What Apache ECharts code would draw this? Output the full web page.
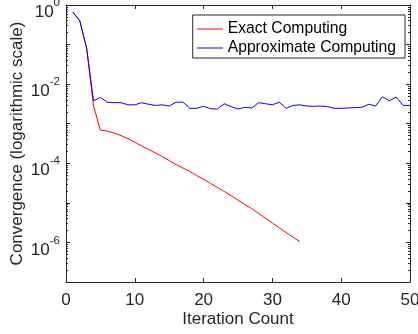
<!DOCTYPE html>
<html>
<head>
<meta charset="UTF-8">
<title>Convergence</title>
<script src="https://cdn.jsdelivr.net/npm/echarts@6/dist/echarts.min.js"></script>
<style>
  html, body { margin: 0; padding: 0; background: #fff; }
  #chart { width: 418px; height: 334px; }
</style>
</head>
<body>
<div id="chart"></div>
<script>
// iteration numbers
var iterations = [1, 2, 3, 4, 5, 6, 7, 8, 9, 10,
  11, 12, 13, 14, 15, 16, 17, 18, 19, 20,
  21, 22, 23, 24, 25, 26, 27, 28, 29, 30,
  31, 32, 33, 34, 35, 36, 37, 38, 39, 40,
  41, 42, 43, 44, 45, 46, 47, 48, 49, 50];

// exact computing stops at iteration 34
var exactValues = [0.66, 0.40, 0.081, 2.8e-3, 6.9e-4, 6.5e-4, 5.8e-4, 5.0e-4, 4.2e-4, 3.4e-4,
  2.75e-4, 2.24e-4, 1.82e-4, 1.48e-4, 1.17e-4, 9.3e-5, 7.6e-5, 6.2e-5, 4.9e-5, 3.9e-5,
  3.1e-5, 2.45e-5, 1.95e-5, 1.51e-5, 1.17e-5, 9.1e-6, 7.1e-6, 5.4e-6, 4.1e-6, 3.1e-6,
  2.34e-6, 1.78e-6, 1.35e-6, 1.05e-6];

var approxValues = [0.66, 0.40, 0.081, 3.8e-3, 4.6e-3, 3.5e-3, 3.4e-3, 3.4e-3, 3.0e-3, 3.0e-3,
  3.4e-3, 3.1e-3, 2.9e-3, 3.0e-3, 2.8e-3, 3.5e-3, 3.5e-3, 2.45e-3, 2.45e-3, 2.75e-3,
  2.4e-3, 2.35e-3, 3.2e-3, 2.7e-3, 2.35e-3, 2.6e-3, 2.5e-3, 3.4e-3, 3.2e-3, 3.0e-3,
  3.5e-3, 2.45e-3, 2.9e-3, 3.0e-3, 2.8e-3, 2.75e-3, 2.8e-3, 2.7e-3, 2.45e-3, 2.45e-3,
  2.5e-3, 2.55e-3, 2.6e-3, 3.1e-3, 2.8e-3, 4.8e-3, 3.8e-3, 4.7e-3, 2.9e-3, 2.9e-3];

var seriesNames = ['Exact Computing', 'Approximate Computing'];
var seriesColors = ['#ff0000', '#0000ff'];

var xTickInterval = 10;
var decadeExponents = [0, -1, -2, -3, -4, -5, -6, -7];
var labelExponents = [0, -2, -4, -6];
var minorMultipliers = [2, 3, 4, 5, 6, 7, 8, 9];

var axisColor = '#262626';
var fontFamily = 'Liberation Sans, Arial, Helvetica, sans-serif';
var axisFont = 17;

function pairs(xs, ys) {
  var out = [];
  for (var i = 0; i < ys.length; i++) out.push([xs[i], ys[i]]);
  return out;
}

var majorTicks = decadeExponents.map(function (e) { return Math.pow(10, e); });
var labelTicks = labelExponents.map(function (e) { return Math.pow(10, e); });
var minorTicks = [];
decadeExponents.forEach(function (e) {
  if (e === 0) return;
  minorMultipliers.forEach(function (m) { minorTicks.push(m * Math.pow(10, e)); });
});

function yAxisDef(position, ticks, len, withLabels) {
  var ax = {
    type: 'log',
    logBase: 10,
    min: 1e-7,
    max: 1,
    position: position,
    axisLine: { show: true, lineStyle: { color: axisColor, width: 1 } },
    axisTick: { show: true, inside: true, length: len, customValues: ticks,
      lineStyle: { color: axisColor, width: 1 } },
    axisLabel: { show: false },
    splitLine: { show: false }
  };
  if (withLabels) {
    ax.name = 'Convergence (logarithmic scale)';
    ax.nameLocation = 'middle';
    ax.nameGap = 40;
    ax.nameMoveOverlap = false;
    ax.nameTextStyle = { fontSize: axisFont, color: axisColor, fontFamily: fontFamily };
    ax.axisLabel = {
      show: true,
      margin: 6,
      padding: [8, 0, 0, 0],
      customValues: labelTicks,
      formatter: function (v) {
        var e = Math.round(Math.log10(v));
        return '{b|10}{s|' + e + '}';
      },
      rich: {
        b: { fontSize: axisFont, color: axisColor, fontFamily: fontFamily, verticalAlign: 'bottom', lineHeight: 24 },
        s: { fontSize: 11.5, color: axisColor, fontFamily: fontFamily, verticalAlign: 'top', lineHeight: 13 }
      }
    };
  }
  return ax;
}

function xAxisDef(position, withLabels) {
  return {
    type: 'value',
    min: 0,
    max: 50,
    interval: xTickInterval,
    position: position,
    name: withLabels ? 'Iteration Count' : '',
    nameLocation: 'middle',
    nameGap: 29,
    nameMoveOverlap: false,
    nameTextStyle: { fontSize: axisFont, color: axisColor, fontFamily: fontFamily },
    axisLine: { show: true, onZero: false, lineStyle: { color: axisColor, width: 1 } },
    axisTick: { show: true, inside: true, length: 4, lineStyle: { color: axisColor } },
    axisLabel: { show: withLabels, margin: 10, fontSize: axisFont, color: axisColor, fontFamily: fontFamily },
    splitLine: { show: false }
  };
}

var chart = echarts.init(document.getElementById('chart'), null, { renderer: 'canvas' });
chart.setOption({
  animation: false,
  backgroundColor: '#fff',
  grid: { left: 66, right: 8, top: 5, bottom: 52, containLabel: false, outerBoundsMode: 'none' },
  legend: {
    orient: 'vertical',
    right: 13,
    top: 15,
    backgroundColor: '#fff',
    borderColor: axisColor,
    borderWidth: 1,
    borderRadius: 0,
    padding: [6, 9, 2, 4],
    icon: 'rect',
    itemWidth: 26,
    itemHeight: 1,
    itemGap: 3,
    textStyle: { fontSize: 15.7, color: '#000', fontFamily: fontFamily },
    data: seriesNames.map(function (n, i) {
      return { name: n, itemStyle: { color: seriesColors[i], borderWidth: 0 } };
    })
  },
  xAxis: [xAxisDef('bottom', true), xAxisDef('top', false)],
  yAxis: [
    yAxisDef('left', majorTicks, 4, true),
    yAxisDef('left', minorTicks, 2, false),
    yAxisDef('right', majorTicks, 4, false),
    yAxisDef('right', minorTicks, 2, false)
  ],
  series: [
    {
      name: seriesNames[0],
      type: 'line',
      xAxisIndex: 0,
      yAxisIndex: 0,
      symbol: 'none',
      data: pairs(iterations, exactValues),
      lineStyle: { color: seriesColors[0], width: 1 },
      itemStyle: { color: seriesColors[0] },
      z: 2
    },
    {
      name: seriesNames[1],
      type: 'line',
      xAxisIndex: 0,
      yAxisIndex: 0,
      symbol: 'none',
      data: pairs(iterations, approxValues),
      lineStyle: { color: seriesColors[1], width: 1 },
      itemStyle: { color: seriesColors[1] },
      z: 3
    }
  ]
});
</script>
</body>
</html>
